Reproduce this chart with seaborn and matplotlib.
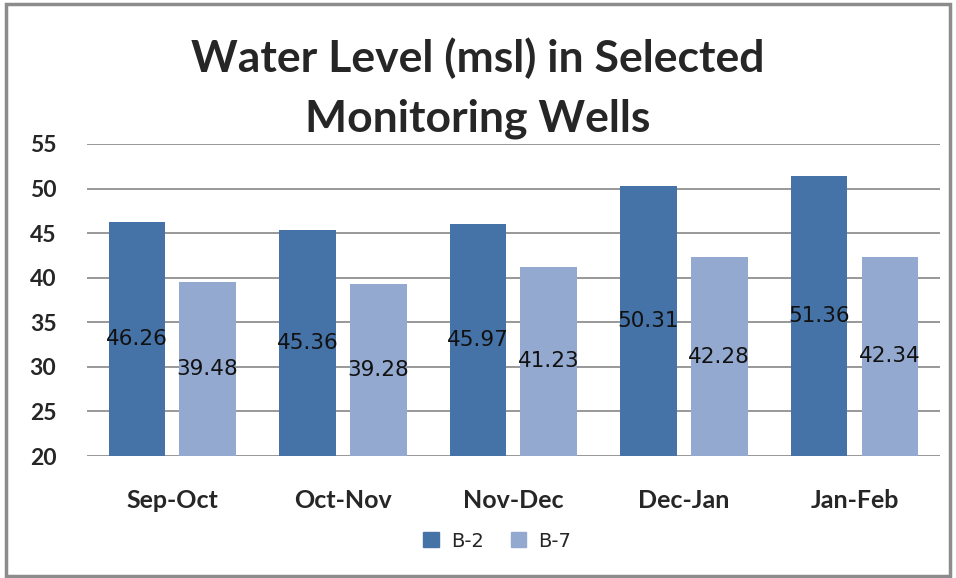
import pandas as pd
import numpy as np
import matplotlib
matplotlib.use('Agg')
import matplotlib.pyplot as plt
import seaborn as sns
from matplotlib.patches import Rectangle

periods = ['Sep-Oct', 'Oct-Nov', 'Nov-Dec', 'Dec-Jan', 'Jan-Feb']
b2 = [46.26, 45.36, 45.97, 50.31, 51.36]
b7 = [39.48, 39.28, 41.23, 42.28, 42.34]
wells = ['B-2', 'B-7']
colors = ['#4572A7', '#93A9CF']

df = pd.DataFrame({
    'Period': periods * 2,
    'Well': [wells[0]] * len(periods) + [wells[1]] * len(periods),
    'Level': b2 + b7,
})

sns.set_style('white')
plt.rcParams['font.family'] = ['Lato', 'DejaVu Sans']

fig = plt.figure(figsize=(9.56, 5.78), dpi=100)
ax = fig.add_axes([0.091, 0.211, 0.892, 0.540])

# bars start at 20 like the excel axis, so draw level minus base on bottom=20
base = 20
df['Height'] = df['Level'] - base
sns.barplot(data=df, x='Period', y='Height', hue='Well', palette=colors,
            width=0.83, gap=0.2, saturation=1, linewidth=0, ax=ax, legend=False)
for p in ax.patches:
    p.set_y(base)

ax.set_ylim(20, 55)
ax.set_yticks(range(20, 56, 5))
ax.yaxis.grid(True, color='#868686', linewidth=1.2)
ax.set_axisbelow(True)
for s in ax.spines.values():
    s.set_visible(False)
ax.set_xlabel('')
ax.set_ylabel('')
ax.tick_params(axis='y', length=0, pad=22, labelsize=16.5)
ax.tick_params(axis='x', length=0, pad=24, labelsize=18)
for lbl in ax.get_yticklabels() + ax.get_xticklabels():
    lbl.set_fontweight('bold')

# value labels centred in each bar
for p, val in zip(ax.patches, b2 + b7):
    ax.text(p.get_x() + p.get_width() / 2, base + (val - base) / 2, f'{val:.2f}',
            ha='center', va='center', fontsize=15.5, family='DejaVu Sans',
            color='#111111')

fig.text(0.5, 0.847, 'Water Level (msl) in Selected\nMonitoring Wells',
         ha='center', va='center', fontsize=32, fontweight='bold',
         linespacing=1.6)

handles = [Rectangle((0, 0), 1, 1, color=c) for c in colors]
fig.legend(handles, wells, loc='center', bbox_to_anchor=(0.52, 0.064), ncol=2,
           frameon=False, handlelength=0.8, handleheight=0.8,
           columnspacing=1.4, handletextpad=0.6, prop={'family': 'DejaVu Sans', 'size': 14})

fig.patches.append(Rectangle((0.006, 0.003), 0.988, 0.990, transform=fig.transFigure,
                             fill=False, edgecolor='#8c8c8c', linewidth=2.5))

fig.savefig('out.png', dpi=100)
